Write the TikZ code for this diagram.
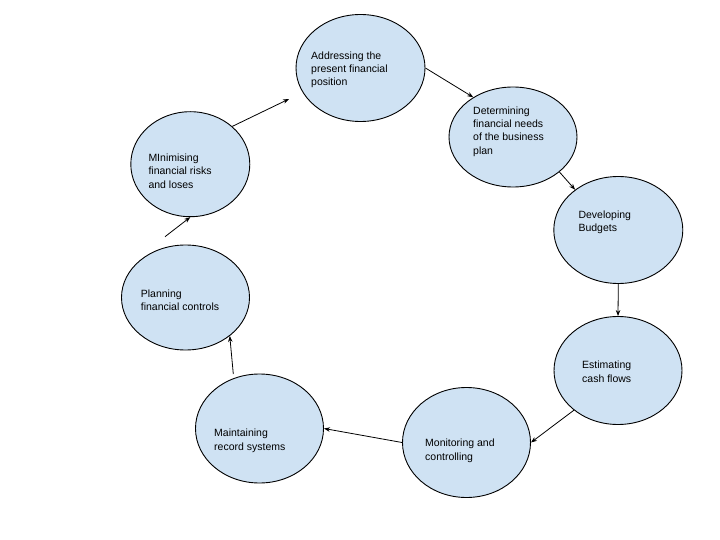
\documentclass[tikz,border=0pt]{standalone}
\usepackage{fontspec}
\setmainfont{Liberation Sans}
\usetikzlibrary{shapes.geometric,arrows.meta}
\definecolor{bubble}{HTML}{CFE2F3}
\tikzset{
  bubble/.style={ellipse, draw=black, fill=bubble, line width=0.9pt, inner sep=0pt, minimum width=128pt, minimum height=106pt},
  txt/.style={anchor=north west, align=left, inner sep=0pt, font=\fontsize{10.5}{13.3}\selectfont},
  conn/.style={-{Stealth[length=6pt,width=4.5pt]}, line width=0.8pt}
}
\begin{document}
\begin{tikzpicture}[x=1pt,y=-1pt]
\useasboundingbox (0,0) rectangle (720,540);
\fill[white] (0,0) rectangle (720,540);
% ellipses
\node[bubble, minimum width=129pt, minimum height=107pt] (A) at (360.5,68) {};
\node[bubble, minimum height=100pt] (D) at (513,137) {};
\node[bubble, minimum width=129pt, minimum height=107pt] (Dev) at (618.3,230) {};
\node[bubble, minimum height=108pt] (E) at (618,370.5) {};
\node[bubble, minimum height=110pt] (M) at (466.5,442.5) {};
\node[bubble, minimum height=109pt] (Ma) at (259.5,428.5) {};
\node[bubble, minimum height=105pt] (P) at (185.5,297.5) {};
\node[bubble, minimum width=119pt, minimum height=105pt] (Mi) at (190.3,164.2) {};
% texts
\node[txt] (tA) at (311,51.3) {Addressing the\\present financial\\position};
\node[txt] (tD) at (473,106.3) {Determining\\financial needs\\of the business\\plan};
\node[txt] (tDev) at (578.3,210.3) {Developing\\Budgets};
\node[txt] (tE) at (582,361) {Estimating\\cash flows};
\node[txt] (tM) at (425,439) {Monitoring and\\controlling};
\node[txt] (tMa) at (214,429) {Maintaining\\record systems};
\node[txt] (tP) at (140.7,289.7) {Planning\\financial controls};
\node[txt] (tMi) at (148.3,153.7) {MInimising\\financial risks\\and loses};
% free connector ends
\coordinate (miA) at (289,99);
\coordinate (pS) at (165,236.7);
\coordinate (maS) at (233.3,374);
% connectors
\draw[conn] (A.east) -- (D.135);
\draw[conn] (D.-37.5) -- (Dev.137.5);
\draw[conn] (Dev.south) -- (E.north);
\draw[conn] (E.222) -- (M.east);
\draw[conn] (M.west) -- (Ma.east);
\draw[conn] (maS) -- (P.-41);
\draw[conn] (pS) -- (Mi.south);
\draw[conn] (Mi.42.6) -- (miA);
\end{tikzpicture}
\end{document}
